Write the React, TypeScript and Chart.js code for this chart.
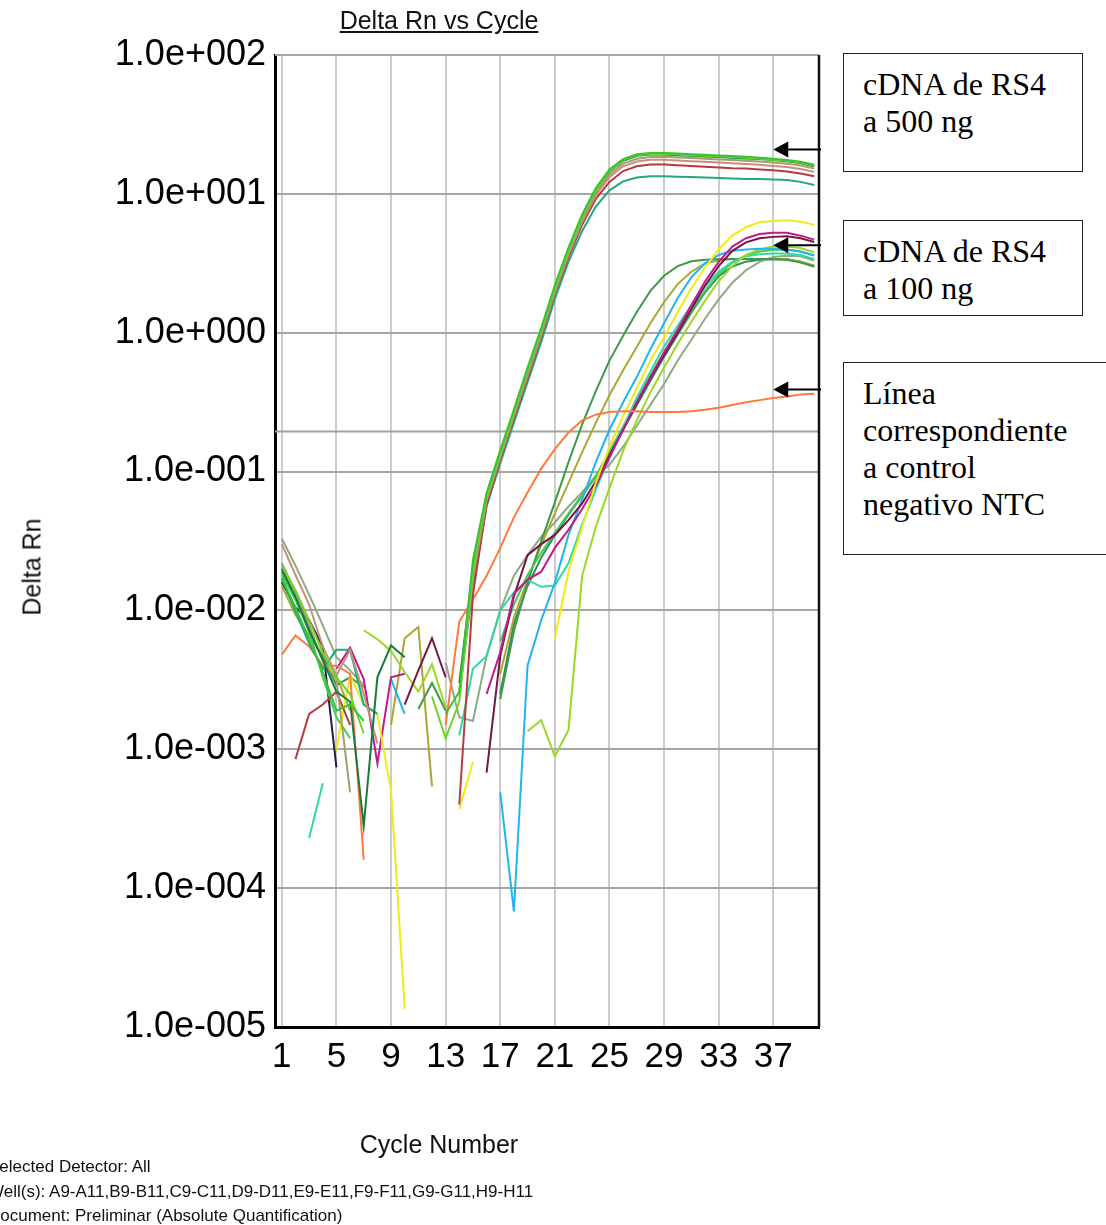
import React, { useEffect, useRef } from "react";
import { Chart, registerables } from "chart.js";

Chart.register(...registerables);

// ---------------- DATA ----------------
const cycles = [1, 2, 3, 4, 5, 6, 7, 8, 9, 10, 11, 12, 13, 14, 15, 16, 17, 18, 19, 20, 21, 22, 23, 24, 25, 26, 27, 28, 29, 30, 31, 32, 33, 34, 35, 36, 37, 38, 39, 40];
const xTickValues = [1, 5, 9, 13, 17, 21, 25, 29, 33, 37];
const yTickValues = [1e-5, 1e-4, 1e-3, 1e-2, 1e-1, 1, 10, 100];
const thresholdValue = 0.194;
const arrowValues = [20.9, 4.27, 0.39];
const arrowTipCycle = 37;
const arrowTailCycle = 40.5;

// cDNA 500 ng wells
const w500a = [0.017, 0.0105, 0.0062, 0.0036, 0.0019, 0.0021, 0.0016, null, null, null, null, null, 0.0018, 0.0026, 0.023, 0.07, 0.142, 0.28, 0.56, 1.08, 2.2, 4.1, 7.1, 11.0, 15.0, 17.8, 19.3, 19.7, 19.7, 19.5, 19.3, 19.1, 18.9, 18.7, 18.5, 18.2, 17.9, 17.5, 17.0, 16.2];
const w500b = [0.021, 0.014, 0.0085, 0.005, 0.0033, 0.0025, 0.0013, null, null, null, null, 0.0024, 0.0012, 0.0022, 0.019, 0.066, 0.134, 0.265, 0.53, 1.03, 2.08, 3.9, 6.8, 10.6, 14.6, 17.5, 19.0, 19.4, 19.4, 19.2, 19.0, 18.8, 18.6, 18.4, 18.2, 17.9, 17.6, 17.3, 16.8, 16.0];
const w500c = [0.02, 0.0125, 0.0072, 0.0044, 0.0026, 0.0022, 0.00028, 0.0033, 0.0056, 0.0046, null, null, null, 0.003, 0.02, 0.068, 0.138, 0.272, 0.54, 1.05, 2.12, 3.98, 6.9, 10.7, 14.5, 17.3, 18.8, 19.2, 19.2, 19.0, 18.8, 18.6, 18.4, 18.2, 18.0, 17.8, 17.5, 17.2, 16.7, 15.8];
const w500d = [0.022, 0.0135, 0.0078, 0.0043, 0.0032, 0.00049, null, null, null, null, null, null, null, 0.0026, 0.018, 0.064, 0.13, 0.258, 0.51, 0.99, 2.0, 3.75, 6.5, 10.2, 13.8, 16.5, 17.9, 18.4, 18.5, 18.3, 18.1, 17.9, 17.7, 17.5, 17.3, 17.1, 16.8, 16.5, 16.0, 15.2];
const w500e = [0.03, 0.018, 0.011, 0.0055, 0.0034, 0.0052, 0.0025, 0.0011, null, null, null, null, null, 0.0024, 0.017, 0.062, 0.126, 0.25, 0.49, 0.96, 1.95, 3.65, 6.3, 9.8, 13.2, 15.8, 17.1, 17.6, 17.6, 17.4, 17.2, 17.0, 16.8, 16.6, 16.4, 16.2, 15.9, 15.6, 15.1, 14.4];
const w500f = [null, 0.00085, 0.0018, 0.0021, 0.0026, 0.0015, null, null, null, null, null, null, null, 0.0004, 0.013, 0.058, 0.122, 0.24, 0.47, 0.93, 1.9, 3.5, 6.0, 9.2, 12.2, 14.6, 15.8, 16.3, 16.3, 16.1, 15.9, 15.7, 15.5, 15.3, 15.2, 15.0, 14.8, 14.5, 14.0, 13.4];
const w500g = [0.017, 0.0098, 0.0058, 0.0038, 0.0052, 0.0052, 0.0021, 0.0018, null, null, null, null, null, 0.0025, 0.015, 0.056, 0.115, 0.225, 0.44, 0.86, 1.75, 3.25, 5.4, 8.1, 10.6, 12.3, 13.1, 13.4, 13.4, 13.3, 13.2, 13.1, 13.0, 12.9, 12.8, 12.8, 12.7, 12.6, 12.2, 11.6];
const w500h = [0.016, 0.0105, 0.0085, 0.0055, 0.00074, null, null, null, null, null, null, null, null, null, null, null, null, null, null, null, null, null, null, null, null, null, null, null, null, null, null, null, null, null, null, null, null, null, null, null];

// cDNA 100 ng wells
const w100a = [0.019, 0.012, 0.0071, 0.0046, 0.0029, 0.0033, 0.0028, null, null, null, 0.00195, 0.003, 0.0019, null, null, null, 0.0023, 0.0071, 0.0158, 0.0316, 0.06, 0.117, 0.219, 0.38, 0.63, 0.95, 1.41, 2.0, 2.57, 3.02, 3.27, 3.35, 3.38, 3.4, 3.4, 3.4, 3.38, 3.35, 3.2, 3.0];
const w100b = [0.015, 0.0093, 0.0066, 0.0047, 0.0034, 0.0019, null, null, 0.0015, 0.0063, 0.0076, 0.00054, null, null, null, null, 0.0035, 0.0089, 0.0166, 0.0295, 0.05, 0.083, 0.138, 0.224, 0.355, 0.537, 0.79, 1.17, 1.66, 2.24, 2.75, 3.16, 3.31, 3.39, 3.4, 3.4, 3.4, 3.38, 3.25, 3.05];
const w100c = [null, null, null, null, null, null, null, null, 0.0032, 0.0018, null, null, null, null, null, null, 0.00049, 0.000068, 0.004, 0.0085, 0.0158, 0.035, 0.063, 0.117, 0.2, 0.316, 0.479, 0.76, 1.17, 1.78, 2.51, 3.16, 3.63, 3.89, 3.98, 4.03, 4.03, 3.98, 3.85, 3.6];
const w100d = [null, null, null, null, 0.001, 0.0034, 0.0021, 0.0018, 0.0005, 0.0000135, null, null, null, 0.00037, 0.00081, null, null, null, null, null, 0.0063, 0.019, 0.04, 0.083, 0.151, 0.251, 0.398, 0.631, 0.933, 1.41, 2.09, 2.95, 3.98, 5.01, 5.75, 6.24, 6.38, 6.46, 6.3, 6.0];
const w100e = [null, null, null, null, 0.0038, 0.0054, 0.0032, 0.00079, 0.0033, 0.0035, null, null, null, null, null, 0.0025, 0.005, 0.0132, 0.0166, 0.019, 0.0282, 0.038, 0.0537, 0.079, 0.126, 0.2, 0.316, 0.479, 0.724, 1.05, 1.58, 2.34, 3.24, 4.17, 4.79, 5.13, 5.25, 5.25, 5.0, 4.68];
const w100f = [null, null, null, null, null, null, null, null, null, 0.0021, 0.0037, 0.0063, 0.0033, null, null, 0.00068, 0.0047, 0.0126, 0.025, 0.03, 0.035, 0.0447, 0.0589, 0.085, 0.13, 0.2, 0.31, 0.47, 0.69, 1.0, 1.48, 2.19, 3.02, 3.89, 4.47, 4.79, 4.9, 4.95, 4.79, 4.5];
const w100g = [null, null, 0.00023, 0.00057, null, null, null, null, null, null, null, null, null, 0.00126, 0.0038, 0.0047, 0.01, 0.0135, 0.0166, 0.0148, 0.0151, 0.0219, 0.0417, 0.074, 0.126, 0.209, 0.339, 0.525, 0.794, 1.12, 1.58, 2.14, 2.75, 3.24, 3.55, 3.67, 3.72, 3.72, 3.63, 3.39];
const w100h = [null, null, null, null, null, null, 0.0072, 0.0062, 0.0051, 0.0036, 0.0026, 0.0041, 0.002, null, null, null, null, null, 0.00135, 0.00162, 0.00089, 0.00138, 0.0178, 0.04, 0.076, 0.141, 0.234, 0.372, 0.562, 0.832, 1.2, 1.7, 2.34, 3.02, 3.63, 3.98, 4.17, 4.17, 4.07, 3.8];
const w100i = [0.033, 0.021, 0.013, 0.0078, 0.0046, 0.0037, 0.0029, null, null, null, null, null, 0.0042, 0.0017, 0.0016, 0.0047, 0.01, 0.0178, 0.025, 0.034, 0.043, 0.056, 0.071, 0.093, 0.112, 0.151, 0.214, 0.302, 0.427, 0.631, 0.891, 1.26, 1.74, 2.29, 2.82, 3.24, 3.51, 3.59, 3.55, 3.31];
const w100j = [0.018, 0.012, 0.0071, 0.0033, 0.0017, 0.0012, null, null, null, null, null, null, null, null, null, null, 0.006, 0.011, 0.018, 0.026, 0.036, 0.05, 0.068, 0.093, 0.14, 0.21, 0.32, 0.49, 0.72, 1.02, 1.45, 2.0, 2.63, 3.2, 3.6, 3.85, 3.95, 3.95, 3.85, 3.6];
const w100k = [null, null, null, null, null, null, null, null, null, null, null, null, null, null, null, null, 0.0025, 0.008, 0.015, 0.024, 0.035, 0.049, 0.067, 0.092, 0.135, 0.2, 0.3, 0.45, 0.67, 0.97, 1.4, 1.95, 2.55, 3.0, 3.25, 3.35, 3.38, 3.38, 3.25, 3.0];

// negative control (NTC)
const ntc = [0.0048, 0.0066, 0.0055, 0.004, 0.004, 0.0035, 0.00016, null, null, null, null, null, 0.0015, 0.0083, 0.012, 0.0178, 0.0282, 0.0468, 0.0708, 0.105, 0.145, 0.191, 0.234, 0.257, 0.269, 0.272, 0.272, 0.269, 0.269, 0.269, 0.272, 0.279, 0.288, 0.302, 0.316, 0.327, 0.339, 0.347, 0.359, 0.363];

// draw order: first entry is painted on top
const wellSeries = [w500a, w500b, w500c, w500d, w500e, w500f, w500g, ntc, w100d, w100e, w100f, w100c, w100h, w100g, w100j, w100a, w100b, w100i, w100k, w500h];
const wellLabels = ["A9", "A10", "A11", "B9", "B10", "B11", "C9", "NTC", "D9", "D10", "D11", "E9", "E10", "E11", "F9", "F10", "F11", "G9", "G10", "G11"];
const wellColors = ["#36c436", "#72d22a", "#1a7a3c", "#a39e6e", "#c4907e", "#b83a3e", "#1faa7c", "#ff7a3a", "#f2ea14", "#c01a8c", "#761646", "#22b4ec", "#9ad824", "#2fd9a2", "#46c856", "#3c9a48", "#aaa830", "#8cab82", "#2f8f5a", "#20204a"];

const annotations = [
  { lines: ["cDNA de RS4", "a 500 ng"], left: 843, top: 53, width: 240, height: 119 },
  { lines: ["cDNA de RS4", "a 100 ng"], left: 843, top: 220, width: 240, height: 96 },
  { lines: ["Línea", "correspondiente", "a control", "negativo NTC"], left: 843, top: 362, width: 300, height: 193 },
];

const footerLines = [
  "Selected Detector: All",
  "Well(s): A9-A11,B9-B11,C9-C11,D9-D11,E9-E11,F9-F11,G9-G11,H9-H11",
  "Document: Preliminar (Absolute Quantification)",
];

const SANS = "'Liberation Sans', Arial, Helvetica, sans-serif";
const SERIF = "'Liberation Serif', 'Times New Roman', serif";

const decorPlugin = {
  id: "decor",
  beforeDatasetsDraw(chart: any) {
    const { ctx, chartArea: a, scales } = chart;
    const ty = scales.y.getPixelForValue(thresholdValue);
    ctx.save();
    ctx.strokeStyle = "#98a892";
    ctx.lineWidth = 2;
    ctx.beginPath();
    ctx.moveTo(a.left, ty);
    ctx.lineTo(a.right, ty);
    ctx.stroke();
    ctx.strokeStyle = "#a8a8a8";
    ctx.beginPath();
    ctx.moveTo(a.left, a.top);
    ctx.lineTo(a.right, a.top);
    ctx.stroke();
    ctx.restore();
  },
  afterDatasetsDraw(chart: any) {
    const { ctx, chartArea: a, scales } = chart;
    ctx.save();
    ctx.strokeStyle = "#111";
    ctx.lineWidth = 2.5;
    ctx.beginPath();
    ctx.moveTo(a.right, a.top);
    ctx.lineTo(a.right, a.bottom);
    ctx.stroke();
    const tipX = scales.x.getPixelForValue(arrowTipCycle);
    const tailX = scales.x.getPixelForValue(arrowTailCycle);
    ctx.fillStyle = "#000";
    ctx.strokeStyle = "#000";
    ctx.lineWidth = 2;
    arrowValues.forEach((v) => {
      const py = scales.y.getPixelForValue(v);
      ctx.beginPath();
      ctx.moveTo(tipX + 10, py);
      ctx.lineTo(tailX, py);
      ctx.stroke();
      ctx.beginPath();
      ctx.moveTo(tipX, py);
      ctx.lineTo(tipX + 15, py - 8);
      ctx.lineTo(tipX + 15, py + 8);
      ctx.closePath();
      ctx.fill();
    });
    ctx.restore();
  },
};

export default function App() {
  const canvasRef = useRef<HTMLCanvasElement | null>(null);

  useEffect(() => {
    document.body.style.margin = "0";
    const canvas = canvasRef.current;
    if (!canvas) return;
    const chart = new Chart(canvas, {
      type: "line",
      data: {
        labels: cycles,
        datasets: wellSeries.map((d, i) => ({
          label: wellLabels[i],
          data: d,
          borderColor: wellColors[i],
          backgroundColor: wellColors[i],
          borderWidth: 2,
          pointRadius: 0,
          pointHoverRadius: 0,
          fill: false,
          spanGaps: false,
          tension: 0,
        })),
      },
      options: {
        responsive: false,
        maintainAspectRatio: false,
        devicePixelRatio: 1,
        animation: false,
        events: [],
        layout: { padding: { top: 55, right: 287, left: 0, bottom: 0 } },
        plugins: {
          legend: { display: false },
          title: { display: false },
          tooltip: { enabled: false },
        },
        scales: {
          x: {
            type: "linear",
            min: 0.5,
            max: 40.35,
            afterBuildTicks: (scale: any) => {
              scale.ticks = xTickValues.map((v) => ({ value: v }));
            },
            afterFit: (scale: any) => {
              scale.height = 198;
            },
            grid: { color: "#cccccc", lineWidth: 2, drawTicks: false },
            border: { display: true, color: "#000", width: 3 },
            ticks: {
              autoSkip: false,
              maxRotation: 0,
              padding: 9,
              color: "#000",
              font: { family: SANS, size: 35 },
            },
          },
          y: {
            type: "logarithmic",
            min: 1e-5,
            max: 100,
            afterBuildTicks: (scale: any) => {
              scale.ticks = yTickValues.map((v) => ({ value: v, major: true }));
            },
            afterFit: (scale: any) => {
              scale.width = 275;
            },
            grid: { color: "#a6a6a6", lineWidth: 2, drawTicks: false },
            border: { display: true, color: "#000", width: 3 },
            ticks: {
              autoSkip: false,
              padding: 9,
              color: "#000",
              font: { family: SANS, size: 36 },
              callback: (v: any) => {
                const e = Math.round(Math.log10(Number(v)));
                return "1.0e" + (e >= 0 ? "+" : "-") + String(Math.abs(e)).padStart(3, "0");
              },
            },
          },
        },
      },
      plugins: [decorPlugin],
    });
    return () => chart.destroy();
  }, []);

  return (
    <div style={{ position: "relative", width: 1106, height: 1225, overflow: "hidden", background: "#fff" }}>
      <canvas ref={canvasRef} width={1106} height={1225} style={{ position: "absolute", left: 0, top: 0, width: 1106, height: 1225 }} />
      <div style={{ position: "absolute", left: 439, top: 8, transform: "translateX(-50%)", fontFamily: SANS, fontSize: 25, lineHeight: "25px", textDecoration: "underline", whiteSpace: "nowrap", color: "#111" }}>
        Delta Rn vs Cycle
      </div>
      <div style={{ position: "absolute", left: 32, top: 567, transform: "translate(-50%, -50%) rotate(-90deg)", fontFamily: SANS, fontSize: 25, lineHeight: "25px", whiteSpace: "nowrap", color: "#111" }}>
        Delta Rn
      </div>
      <div style={{ position: "absolute", left: 439, top: 1132, transform: "translateX(-50%)", fontFamily: SANS, fontSize: 25, lineHeight: "25px", whiteSpace: "nowrap", color: "#111" }}>
        Cycle Number
      </div>
      {footerLines.map((t, i) => (
        <div key={i} style={{ position: "absolute", left: -12, top: 1158 + i * 24.5, fontFamily: SANS, fontSize: 17, lineHeight: "18px", whiteSpace: "nowrap", color: "#111" }}>
          {t}
        </div>
      ))}
      {annotations.map((a, i) => (
        <div key={i} style={{ position: "absolute", left: a.left, top: a.top, width: a.width, height: a.height, boxSizing: "border-box", border: "1.5px solid #222", background: "#fff", padding: "12px 0 0 19px", fontFamily: SERIF, fontSize: 32, lineHeight: "37px", color: "#000", whiteSpace: "nowrap" }}>
          {a.lines.map((l, j) => (
            <div key={j}>{l}</div>
          ))}
        </div>
      ))}
    </div>
  );
}
